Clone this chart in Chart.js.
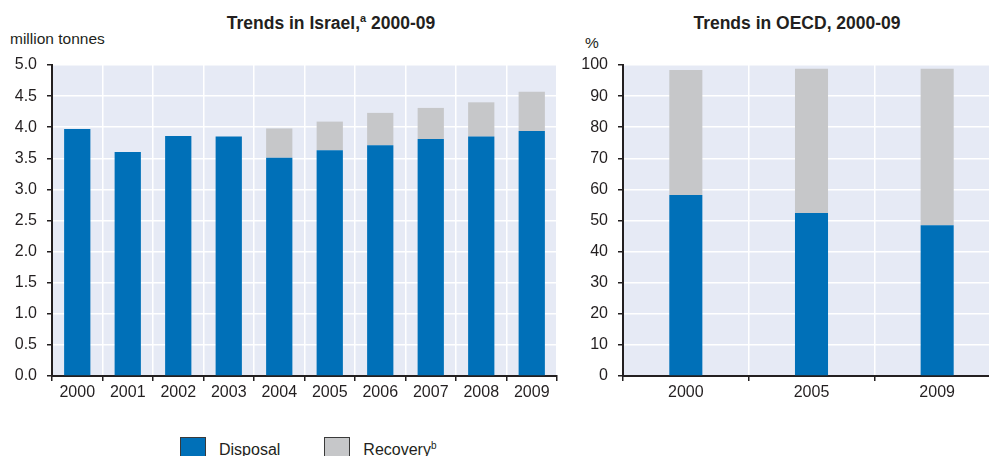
<!DOCTYPE html>
<html>
<head>
<meta charset="utf-8">
<script src="https://cdn.jsdelivr.net/npm/chart.js@4"></script>
<style>
    html, body { margin: 0; padding: 0; background: #fff; }
    body { width: 989px; height: 456px; position: relative; overflow: hidden; font-family: "Liberation Sans", Arial, sans-serif; color: #231f20; }
    sup { line-height: 0; }
    .chart-box { position: absolute; top: 0; height: 410px; }
    .title { position: absolute; top: 13px; font-weight: bold; font-size: 17.5px; white-space: nowrap; transform: translateX(-50%); }
    .title sup { font-size: 11px; font-weight: bold; }
    .unit { position: absolute; font-size: 15.5px; }
    .legend { position: absolute; top: 437px; left: 180px; display: flex; font-size: 16px; }
    .legend .item { display: flex; align-items: flex-start; margin-right: 44px; }
    .legend .swatch { width: 26px; height: 20px; box-sizing: border-box; border: 1px solid #3a3a3a; margin-right: 13px; }
    .legend span { line-height: 20px; margin-top: 3px; }
    .legend sup { font-size: 10px; }
</style>
</head>
<body>

<div class="title" style="left: 331px;">Trends in Israel,<sup>a</sup> 2000-09</div>
<div class="title" style="left: 797px;">Trends in OECD, 2000-09</div>
<div class="unit" style="left: 10px; top: 30px;">million tonnes</div>
<div class="unit" style="left: 585px; top: 34px;">%</div>

<div class="chart-box" style="left: 0; width: 565px;"><canvas id="israelChart"></canvas></div>
<div class="chart-box" style="left: 565px; width: 436px;"><canvas id="oecdChart"></canvas></div>

<div class="legend">
    <div class="item"><div class="swatch" style="background:#0070b8"></div><span>Disposal</span></div>
    <div class="item"><div class="swatch" style="background:#c6c7c9"></div><span>Recovery<sup>b</sup></span></div>
</div>

<script>
// Israel, million tonnes
const israelYears = ['2000', '2001', '2002', '2003', '2004', '2005', '2006', '2007', '2008', '2009'];
const israelDisposal = [3.97, 3.60, 3.86, 3.85, 3.51, 3.63, 3.71, 3.81, 3.85, 3.94];
const israelRecovery = [null, null, null, null, 0.47, 0.46, 0.52, 0.50, 0.55, 0.63];

// OECD, % of total
const oecdYears = ['2000', '2005', '2009'];
const oecdDisposal = [58.2, 52.4, 48.5];
const oecdRecovery = [40.2, 46.4, 50.3];

const BLUE = '#0070b8';
const GREY = '#c6c7c9';
const PLOT_BG = '#e6eaf5';
const TEXT = '#231f20';
const TICK_FONT = { family: '"Liberation Sans", Arial, sans-serif', size: 16 };

Chart.defaults.color = TEXT;

const plotBackground = {
    id: 'plotBackground',
    beforeDraw(chart) {
        const { ctx, chartArea: a } = chart;
        ctx.save();
        ctx.fillStyle = PLOT_BG;
        ctx.fillRect(a.left, a.top, a.right - a.left, a.bottom - a.top);
        ctx.restore();
    }
};

function makeChart(id, labels, disposal, recovery, opts) {
    return new Chart(document.getElementById(id).getContext('2d'), {
        type: 'bar',
        data: {
            labels: labels,
            datasets: [
                { label: 'Disposal', data: disposal, backgroundColor: BLUE, barPercentage: opts.barPct, categoryPercentage: 1 },
                { label: 'Recovery', data: recovery, backgroundColor: GREY, barPercentage: opts.barPct, categoryPercentage: 1 }
            ]
        },
        options: {
            responsive: true,
            maintainAspectRatio: false,
            animation: false,
            layout: { padding: { top: 65, bottom: 4, left: 0, right: opts.padRight } },
            plugins: { legend: { display: false }, tooltip: { enabled: false } },
            scales: {
                x: {
                    stacked: true,
                    afterFit: s => { s.height = 30; },
                    grid: { color: '#ffffff', lineWidth: 1.5, tickColor: TEXT, tickLength: 5, tickWidth: 1.5 },
                    border: { color: TEXT, width: 2 },
                    ticks: { font: TICK_FONT, padding: 2 }
                },
                y: {
                    stacked: true,
                    min: 0,
                    max: opts.max,
                    afterFit: s => { s.width = opts.axisWidth; },
                    grid: { color: '#ffffff', lineWidth: 1.5, tickColor: TEXT, tickLength: 5, tickWidth: 1.5 },
                    border: { color: TEXT, width: 2 },
                    ticks: {
                        font: TICK_FONT,
                        stepSize: opts.step,
                        padding: 10,
                        callback: opts.format
                    }
                }
            }
        },
        plugins: [plotBackground]
    });
}

makeChart('israelChart', israelYears, israelDisposal, israelRecovery, {
    max: 5, step: 0.5, barPct: 0.52, axisWidth: 52, padRight: 8,
    format: v => v.toFixed(1)
});

// the right plot runs past the page edge, as in the printed layout
makeChart('oecdChart', oecdYears, oecdDisposal, oecdRecovery, {
    max: 100, step: 10, barPct: 0.263, axisWidth: 58, padRight: 1,
    format: v => v
});
</script>
</body>
</html>
